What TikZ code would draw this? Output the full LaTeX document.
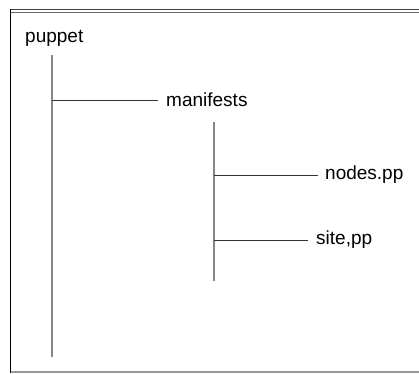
\documentclass[tikz,border=0pt]{standalone}
\usepackage{fontspec}
\setmainfont{Liberation Sans}
\begin{document}
\begin{tikzpicture}[x=1pt,y=-1pt,
  lbl/.style={anchor=west,inner sep=0pt,font=\fontsize{19}{22}\selectfont},
  trunk/.style={draw=gray!95,line width=1.8pt},
  branch/.style={draw=black!80,line width=0.9pt}]
\useasboundingbox (0,0) rectangle (419,373);
% frame
\draw[black!75,line width=1pt] (10,9.5) -- (419,9.5);
\draw[black!60,line width=1pt] (10,12) -- (419,12);
\draw[black!40,line width=1.2pt] (10,372) -- (419,372);
\draw[black,line width=1.6pt] (10.5,9) -- (10.5,373);
% nodes
\node[lbl] (puppet) at (25,38) {puppet};
\node[lbl] (manifests) at (166,100) {manifests};
\node[lbl] (nodes) at (325,175) {nodes.pp};
\node[lbl] (site) at (316,240) {site,pp};
% coordinates
\coordinate (t1top) at (52,55);
\coordinate (t1bot) at (52,357);
\coordinate (t1b) at (52,100);
\coordinate (t2top) at (214,122);
\coordinate (t2bot) at (214,281);
\coordinate (t2a) at (214,175);
\coordinate (t2b) at (214,240);
% connectors
\draw[trunk] (t1top) -- (t1bot);
\draw[branch] (t1b) -- ([xshift=-8pt]manifests.west);
\draw[trunk] (t2top) -- (t2bot);
\draw[branch] (t2a) -- ([xshift=-7pt]nodes.west);
\draw[branch] (t2b) -- ([xshift=-8pt]site.west);
\end{tikzpicture}
\end{document}
